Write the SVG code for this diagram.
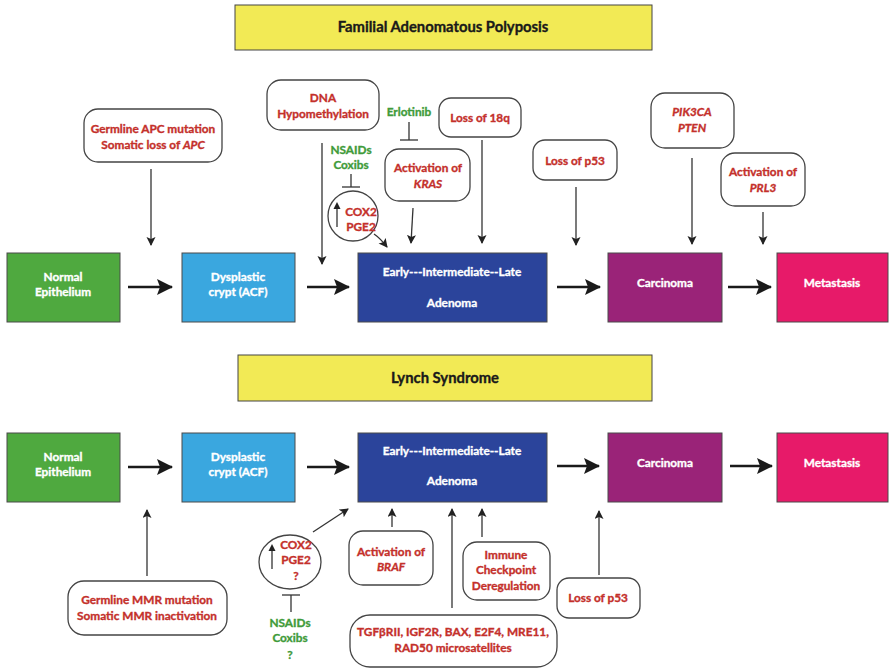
<svg xmlns="http://www.w3.org/2000/svg" width="889" height="669" viewBox="0 0 889 669">
<defs>
<style>
.t{font-family:Lato,"Liberation Sans",sans-serif;font-weight:bold;text-anchor:middle;stroke-width:0.35px}
.w{fill:#ffffff;stroke:#ffffff;font-size:11.8px}
.r{fill:#c4302b;stroke:#c4302b;font-size:11.8px}
.g{fill:#3f9b3a;stroke:#3f9b3a;font-size:11.8px}
.i{font-style:italic}
.ttl{fill:#1a1a1a;stroke:#1a1a1a;font-size:14.8px}
.box{stroke:#4a4a4a;stroke-width:1}
.note{fill:#ffffff;stroke:#444;stroke-width:1.3}
.big{stroke:#1a1a1a;stroke-width:2.6;fill:none;marker-end:url(#ab)}
.thin{stroke:#333;stroke-width:1.3;fill:none;marker-end:url(#as)}
.bar{stroke:#333;stroke-width:1.3;fill:none}
</style>
<marker id="ab" markerUnits="userSpaceOnUse" markerWidth="18" markerHeight="18" refX="15" refY="8" orient="auto">
<path d="M0,0 L16,8 L0,16 L3,8 z" fill="#1a1a1a"/>
</marker>
<marker id="as" markerUnits="userSpaceOnUse" markerWidth="10" markerHeight="10" refX="8" refY="4.5" orient="auto">
<path d="M0,0 L9,4.5 L0,9 L2,4.5 z" fill="#222"/>
</marker>
</defs>
<rect width="889" height="669" fill="#ffffff"/>

<g id="title-fap">
<rect x="235" y="5" width="417" height="45" fill="#f2ea55" stroke="#444" stroke-width="1"/>
<text class="t ttl" x="443" y="32">Familial Adenomatous Polyposis</text>
</g>
<g id="title-lynch">
<rect x="238" y="355" width="414" height="46" fill="#f2ea55" stroke="#444" stroke-width="1"/>
<text class="t ttl" x="445" y="383">Lynch Syndrome</text>
</g>

<!-- top row -->
<g id="t-normal">
<rect class="box" x="7" y="253" width="113" height="69" fill="#4fa93f"/>
<text class="t w" x="63" y="281">Normal</text>
<text class="t w" x="63" y="296">Epithelium</text>
</g>
<g id="t-dysplastic">
<rect class="box" x="182" y="253" width="113" height="69" fill="#3aa7df"/>
<text class="t w" x="238" y="281">Dysplastic</text>
<text class="t w" x="238" y="296">crypt (ACF)</text>
</g>
<g id="t-adenoma">
<rect class="box" x="358" y="253" width="189" height="69" fill="#2b449b"/>
<text class="t w" x="452" y="276">Early---Intermediate--Late</text>
<text class="t w" x="452" y="307">Adenoma</text>
</g>
<g id="t-carcinoma">
<rect class="box" x="608" y="253" width="114" height="69" fill="#9a2378"/>
<text class="t w" x="665" y="287">Carcinoma</text>
</g>
<g id="t-metastasis">
<rect class="box" x="777" y="253" width="111" height="69" fill="#e71a69"/>
<text class="t w" x="832" y="287">Metastasis</text>
</g>

<!-- top annotations -->
<g id="t-apc">
<rect class="note" x="84" y="109" width="138" height="53" rx="14"/>
<text class="t r" x="153" y="133">Germline APC mutation</text>
<text class="t r" x="153" y="149">Somatic loss of <tspan class="i">APC</tspan></text>
</g>
<g id="t-dna">
<rect class="note" x="267" y="80" width="112" height="50" rx="14"/>
<text class="t r" x="323" y="102">DNA</text>
<text class="t r" x="323" y="118">Hypomethylation</text>
</g>
<g id="t-erlotinib">
<text class="t g" x="409" y="116">Erlotinib</text>
</g>
<g id="t-kras">
<rect class="note" x="385" y="149" width="85" height="52" rx="14"/>
<text class="t r" x="428" y="172">Activation of</text>
<text class="t r i" x="428" y="188">KRAS</text>
</g>
<g id="t-nsaids">
<text class="t g" x="351" y="154">NSAIDs</text>
<text class="t g" x="351" y="169">Coxibs</text>
</g>
<g id="t-cox2">
<circle cx="353" cy="216" r="25" fill="#ffffff" stroke="#444" stroke-width="1.3"/>
<text class="t r" x="361" y="216">COX2</text>
<text class="t r" x="361" y="231">PGE2</text>
<line x1="337" y1="227" x2="337" y2="207" class="bar"/>
<path d="M333.5,209 L337,202 L340.5,209 z" fill="#222"/>
</g>
<g id="t-18q">
<rect class="note" x="439" y="98" width="82" height="39" rx="12"/>
<text class="t r" x="480" y="122">Loss of 18q</text>
</g>
<g id="t-p53">
<rect class="note" x="533" y="140" width="84" height="40" rx="12"/>
<text class="t r" x="575" y="165">Loss of p53</text>
</g>
<g id="t-pik3ca">
<rect class="note" x="651" y="93" width="83" height="55" rx="14"/>
<text class="t r i" x="692" y="116">PIK3CA</text>
<text class="t r i" x="692" y="132">PTEN</text>
</g>
<g id="t-prl3">
<rect class="note" x="721" y="153" width="84" height="53" rx="14"/>
<text class="t r" x="763" y="176">Activation of</text>
<text class="t r i" x="763" y="192">PRL3</text>
</g>

<!-- bottom row -->
<g id="b-normal">
<rect class="box" x="7" y="433" width="113" height="69" fill="#4fa93f"/>
<text class="t w" x="63" y="461">Normal</text>
<text class="t w" x="63" y="476">Epithelium</text>
</g>
<g id="b-dysplastic">
<rect class="box" x="182" y="433" width="113" height="69" fill="#3aa7df"/>
<text class="t w" x="238" y="461">Dysplastic</text>
<text class="t w" x="238" y="476">crypt (ACF)</text>
</g>
<g id="b-adenoma">
<rect class="box" x="358" y="433" width="189" height="69" fill="#2b449b"/>
<text class="t w" x="452" y="455">Early---Intermediate--Late</text>
<text class="t w" x="452" y="485">Adenoma</text>
</g>
<g id="b-carcinoma">
<rect class="box" x="608" y="433" width="114" height="69" fill="#9a2378"/>
<text class="t w" x="665" y="467">Carcinoma</text>
</g>
<g id="b-metastasis">
<rect class="box" x="777" y="433" width="111" height="69" fill="#e71a69"/>
<text class="t w" x="832" y="467">Metastasis</text>
</g>

<!-- bottom annotations -->
<g id="b-mmr">
<rect class="note" x="68" y="581" width="159" height="54" rx="16"/>
<text class="t r" x="147" y="604">Germline MMR mutation</text>
<text class="t r" x="147" y="620">Somatic MMR inactivation</text>
</g>
<g id="b-cox2">
<ellipse cx="290" cy="562" rx="31" ry="27" fill="#ffffff" stroke="#444" stroke-width="1.3"/>
<text class="t r" x="296" y="549">COX2</text>
<text class="t r" x="296" y="564">PGE2</text>
<text class="t r" x="296" y="580">?</text>
<line x1="272" y1="569" x2="272" y2="549" class="bar"/>
<path d="M268.5,551 L272,544 L275.5,551 z" fill="#222"/>
</g>
<g id="b-nsaids">
<text class="t g" x="290" y="627">NSAIDs</text>
<text class="t g" x="290" y="642">Coxibs</text>
<text class="t g" x="290" y="659">?</text>
</g>
<g id="b-braf">
<rect class="note" x="349" y="531" width="84" height="54" rx="14"/>
<text class="t r" x="391" y="556">Activation of</text>
<text class="t r i" x="391" y="571">BRAF</text>
</g>
<g id="b-immune">
<rect class="note" x="463" y="542" width="87" height="58" rx="14"/>
<text class="t r" x="506" y="559">Immune</text>
<text class="t r" x="506" y="574">Checkpoint</text>
<text class="t r" x="506" y="590">Deregulation</text>
</g>
<g id="b-tgf">
<rect class="note" x="350" y="615" width="207" height="52" rx="20"/>
<text class="t r" x="453" y="636">TGFβRII, IGF2R, BAX, E2F4, MRE11,</text>
<text class="t r" x="453" y="652">RAD50 microsatellites</text>
</g>
<g id="b-p53">
<rect class="note" x="557" y="578" width="83" height="40" rx="12"/>
<text class="t r" x="598" y="602">Loss of p53</text>
</g>

<g id="connectors">
<!-- top main -->
<line class="big" x1="128" y1="287" x2="172" y2="287"/>
<line class="big" x1="307" y1="287" x2="349" y2="287"/>
<line class="big" x1="557" y1="287" x2="600" y2="287"/>
<line class="big" x1="728" y1="287" x2="771" y2="287"/>
<!-- top thin -->
<line class="thin" x1="151" y1="169" x2="151" y2="245"/>
<line class="thin" x1="322" y1="143" x2="322" y2="264"/>
<line class="thin" x1="413" y1="208" x2="411" y2="243"/>
<line class="thin" x1="482" y1="140" x2="482" y2="243"/>
<line class="thin" x1="576" y1="187" x2="576" y2="245"/>
<line class="thin" x1="692" y1="158" x2="692" y2="244"/>
<line class="thin" x1="763" y1="212" x2="763" y2="244"/>
<path class="thin" d="M374,234 Q380,238 387,247"/>
<!-- inhibition bars top -->
<line class="bar" x1="409" y1="122" x2="409" y2="140"/>
<line class="bar" x1="400" y1="140" x2="418" y2="140"/>
<line class="bar" x1="351" y1="174" x2="351" y2="187"/>
<line class="bar" x1="342" y1="187" x2="360" y2="187"/>
<!-- bottom main -->
<line class="big" x1="128" y1="467" x2="172" y2="467"/>
<line class="big" x1="307" y1="467" x2="349" y2="467"/>
<line class="big" x1="557" y1="466" x2="599" y2="466"/>
<line class="big" x1="730" y1="466" x2="772" y2="466"/>
<!-- bottom thin -->
<line class="thin" x1="147" y1="576" x2="147" y2="510"/>
<line class="thin" x1="313" y1="532" x2="348" y2="509"/>
<line class="thin" x1="392" y1="527" x2="392" y2="509"/>
<line class="thin" x1="452" y1="608" x2="452" y2="509"/>
<line class="thin" x1="482" y1="537" x2="482" y2="509"/>
<line class="thin" x1="599" y1="575" x2="599" y2="511"/>
<!-- inhibition bar bottom -->
<line class="bar" x1="291" y1="595" x2="291" y2="612"/>
<line class="bar" x1="282" y1="595" x2="300" y2="595"/>
</g>
</svg>
